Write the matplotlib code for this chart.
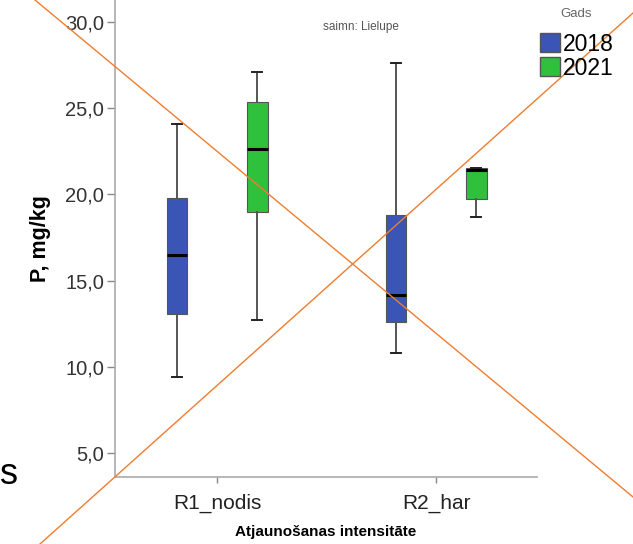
import numpy as np
import matplotlib.pyplot as plt
from matplotlib.lines import Line2D
from matplotlib.patches import Patch
from matplotlib.ticker import FuncFormatter

plt.rcParams['font.family'] = ['Liberation Sans', 'DejaVu Sans']

groups = ["R1_nodis", "R2_har"]
years = ["2018", "2021"]
colors = {"2018": "#3b55b6", "2021": "#2fc03c"}

# per year, per group: whisker low, q1, median, q3, whisker high
whislo = {"2018": [9.4, 10.8], "2021": [12.7, 18.7]}
q1 = {"2018": [13.1, 12.6], "2021": [19.0, 19.75]}
med = {"2018": [16.5, 14.2], "2021": [22.65, 21.4]}
q3 = {"2018": [19.8, 18.8], "2021": [25.35, 21.55]}
whishi = {"2018": [24.1, 27.6], "2021": [27.1, 21.55]}

yticks = [5, 10, 15, 20, 25, 30]

fig = plt.figure(figsize=(6.33, 5.44), dpi=100)
ax = fig.add_axes([0.1817, 0.1232, 0.8483 - 0.1817, 1 - 0.1232])

x = np.arange(len(groups))
offsets = {"2018": -0.183, "2021": 0.183}
for yr in years:
    stats = []
    for i in range(len(groups)):
        stats.append(dict(whislo=whislo[yr][i], q1=q1[yr][i], med=med[yr][i],
                          q3=q3[yr][i], whishi=whishi[yr][i], fliers=[]))
    ax.bxp(stats, positions=x + offsets[yr], widths=0.095, patch_artist=True,
           showfliers=False,
           boxprops=dict(facecolor=colors[yr], edgecolor="#555555", linewidth=0.8),
           medianprops=dict(color="black", linewidth=2.2),
           whiskerprops=dict(color="#555555", linewidth=1.4),
           capprops=dict(color="#222222", linewidth=1.4),
           capwidths=0.045, manage_ticks=False)

ax.set_xlim(-0.466, 1.461)
ax.set_ylim(3.63, 31.27)
ax.set_xticks(x)
ax.set_xticklabels(groups, fontsize=15, color="#222222")
ax.set_yticks(yticks)
ax.yaxis.set_major_formatter(FuncFormatter(lambda v, p: f"{v:.1f}".replace(".", ",")))
ax.tick_params(axis="y", labelsize=14.5, labelcolor="#333333", color="#888888", length=6, width=1, pad=2)
ax.tick_params(axis="x", color="#888888", length=4, width=1, pad=8)
for s in ["top", "right"]:
    ax.spines[s].set_visible(False)
for s in ["left", "bottom"]:
    ax.spines[s].set_color("#aaaaaa")
    ax.spines[s].set_linewidth(1.2)

ax.set_ylabel("P, mg/kg", fontsize=15.5, fontweight="bold", labelpad=10)
ax.set_xlabel("Atjaunošanas intensitāte", fontsize=11, fontweight="bold", labelpad=9)
fig.text(361 / 633, 1 - 27 / 544, "saimn: Lielupe", fontsize=8.5, color="#555555",
         ha="center", va="center")

# legend: title drawn separately so it sits close to the top edge
fig.text(576 / 633, 1 - 14 / 544, "Gads", fontsize=9.5, color="#666666",
         ha="center", va="center")
handles = [Patch(facecolor=colors[yr], edgecolor="#555555") for yr in years]
fig.legend(handles, years, loc="upper left", bbox_to_anchor=(535 / 633, 1 - 28 / 544),
           frameon=False, fontsize=16.5, handlelength=0.9,
           handleheight=0.9, handletextpad=0.1, labelspacing=0.05,
           borderaxespad=0.0, borderpad=0.2)

# slide residue: the stray letter and the orange cross
fig.text(0.0, 1 - 474 / 544, "s", fontsize=26, ha="left", va="center")
fig.add_artist(Line2D([35 / 633, 1.0], [1.0, 1 - 497 / 544], color="#ed7d31", linewidth=1.0))
fig.add_artist(Line2D([40 / 633, 1.0], [0.0, 1 - 13 / 544], color="#ed7d31", linewidth=1.0))

fig.savefig("out.png", dpi=100)
